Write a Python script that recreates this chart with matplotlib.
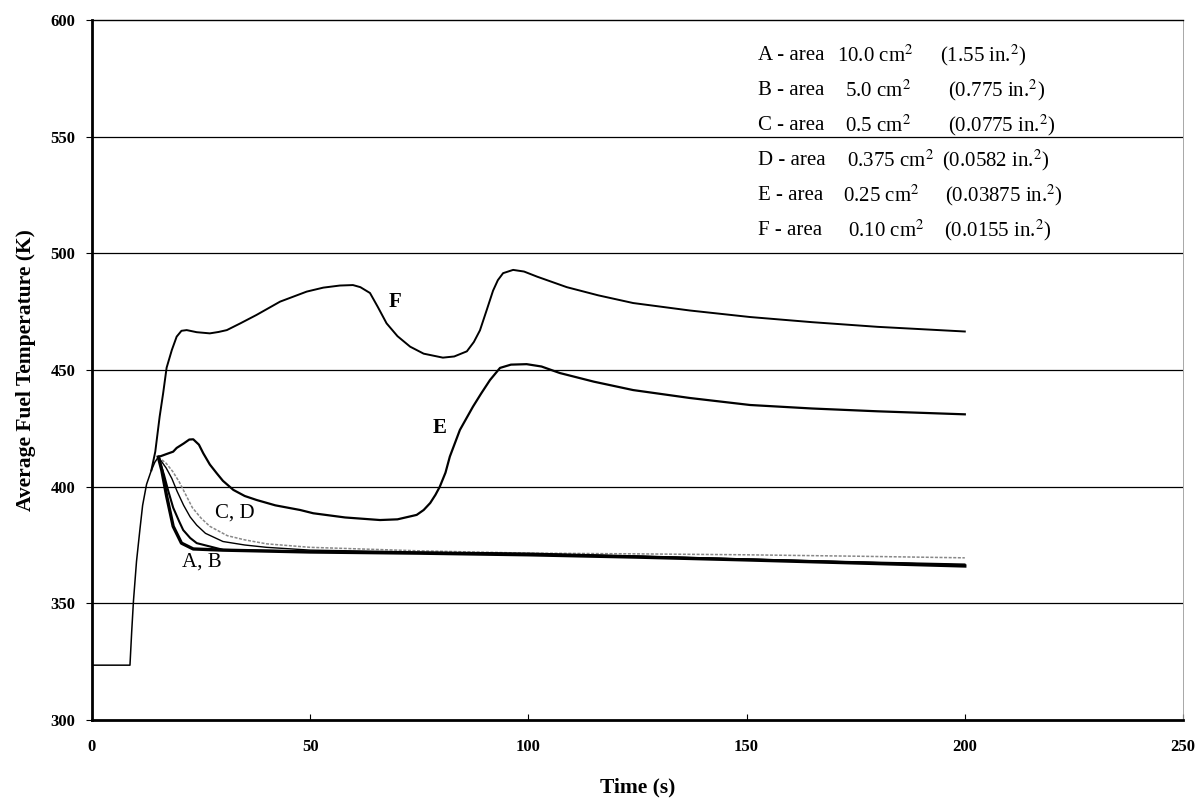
import matplotlib
matplotlib.use("Agg")
import matplotlib.pyplot as plt

plt.rcParams['font.family'] = ['Liberation Serif', 'DejaVu Serif']
plt.rcParams['mathtext.fontset'] = 'stix'

# shared warm-up ramp (all cases start together)
ramp_t = [0, 8.7, 9.1, 9.5, 10.2, 11.0, 11.6, 12.5, 13.6, 14.4, 15.2]
ramp_T = [323.5, 323.5, 338, 351, 368, 382, 392, 401, 407, 410.5, 412.7]

# A - 10.0 cm2
a_t = [15.2, 16.0, 17.1, 18.6, 20.5, 23.2, 30, 50, 75, 100, 125, 150, 175, 200]
a_T = [412.7, 407, 396, 383, 375.8, 373.3, 372.8, 372.0, 371.5, 370.8, 369.8, 368.6, 367.3, 366.0]
# B - 5.0 cm2
b_t = [15.2, 16.5, 17.5, 18.6, 20.0, 20.9, 22.5, 24.0, 30.1, 50, 75, 100, 125, 150, 175, 200]
b_T = [412.7, 405, 398, 391, 385, 381.4, 378, 375.8, 372.9, 372.2, 371.6, 371.0, 370.0, 368.8, 367.5, 366.3]
# C - 0.5 cm2
c_t = [15.2, 17.0, 18.3, 19.5, 21.0, 22.5, 24.0, 26.0, 30, 35, 40, 50, 75, 100, 125, 150, 175, 200]
c_T = [412.7, 408, 403.5, 398, 392, 387, 383.5, 380, 376.5, 375.0, 374.0, 372.8, 372.0, 371.5, 370.3, 369.0, 367.8, 366.8]
# D - 0.375 cm2
d_t = [15.2, 17.0, 18.5, 20.0, 21.5, 23.0, 25.0, 27.0, 31.0, 35, 40, 50, 75, 100, 125, 150, 175, 200]
d_T = [412.7, 410, 406.5, 402, 396.5, 391, 386.5, 383, 379, 377.2, 375.5, 374.0, 372.5, 371.5, 371.2, 370.8, 370.2, 369.5]
# E - 0.25 cm2
e_t = [15.2, 17.1, 18.6, 19.4, 21.0, 22.3, 23.2, 24.5, 25.5, 27.0, 28.6, 30.0, 32.4, 35.0, 37.7, 42.0, 47.7, 50.7, 58,
       66, 70, 74.4, 76.0, 77.5, 78.7, 79.7, 81.0, 82.0, 84.3, 87.3, 89.2, 91.2, 93.5, 96, 99.6, 103, 107.2, 115,
       124, 137, 150.8, 165, 180, 200]
e_T = [412.7, 414, 415, 416.6, 418.5, 420.2, 420.3, 418, 414.3, 409.5, 405.7, 402.5, 398.6, 396.0, 394.3, 392.0, 390.0, 388.6, 386.8,
       385.7, 386.0, 387.9, 390.0, 393.0, 396.5, 400.0, 406.0, 412.9, 424.3, 434.3, 440.0, 445.7, 450.9, 452.3, 452.5, 451.5, 448.7, 445.0,
       441.4, 438.0, 435.0, 433.5, 432.3, 431.0]
# F - 0.10 cm2
f_t = [13.6, 14.5, 15.5, 16.3, 17.1, 18.3, 19.4, 20.5, 21.7, 24, 27, 29, 30.9, 34, 37.7, 43.1, 49.2, 53, 56.8, 59.8,
       61.5, 63.7, 65.5, 67.5, 70, 72.9, 76, 80.4, 83, 85.9, 87.5, 88.9, 90.5, 91.9, 93, 94.2, 96.5, 99,
       102, 108.8, 116, 124, 137, 150.8, 165, 180, 200]
f_T = [407, 415, 430, 440, 451, 458.6, 464.3, 466.8, 467.1, 466.2, 465.7, 466.3, 467.1, 470, 473.6, 479.3, 483.6, 485.3, 486.2, 486.4,
       485.5, 483, 477, 470, 464.5, 460, 457, 455.3, 455.8, 458, 462, 467, 476, 484, 488.5, 491.5, 492.9, 492.2,
       490, 485.5, 482, 478.7, 475.5, 472.7, 470.5, 468.5, 466.5]

legend_rows = [
    ("A - area", r"10.0 cm$^2$", r"(1.55 in.$^2$)"),
    ("B - area", r"5.0 cm$^2$", r"(0.775 in.$^2$)"),
    ("C - area", r"0.5 cm$^2$", r"(0.0775 in.$^2$)"),
    ("D - area", r"0.375 cm$^2$", r"(0.0582 in.$^2$)"),
    ("E - area", r"0.25 cm$^2$", r"(0.03875 in.$^2$)"),
    ("F - area", r"0.10 cm$^2$", r"(0.0155 in.$^2$)"),
]

fig = plt.figure(figsize=(12.04, 8), dpi=100)
ax = fig.add_axes([92 / 1204, 0.1, (1183 - 92) / 1204, 0.875])

for y in [350, 400, 450, 500, 550]:
    ax.axhline(y, color='black', lw=0.9, zorder=1)

ax.plot(ramp_t, ramp_T, color='black', lw=1.1, zorder=3)
ax.plot(f_t, f_T, color='black', lw=1.4, zorder=3)
ax.plot(e_t, e_T, color='black', lw=1.6, zorder=3)
ax.plot(d_t, d_T, color='#888888', lw=1.1, ls=(0, (2, 1)), zorder=3)
ax.plot(c_t, c_T, color='black', lw=1.0, zorder=3)
ax.plot(b_t, b_T, color='black', lw=1.5, zorder=3)
ax.plot(a_t, a_T, color='black', lw=2.4, zorder=3)

lab = dict(fontsize=15, ha='center', va='center', zorder=4)
ax.text(69.4, 479.3, "F", fontweight='bold', **lab)
ax.text(79.6, 425.3, "E", fontweight='bold', **lab)
ax.text(32.8, 388.7, "C, D", **lab)
ax.text(25.1, 367.7, "A, B", **lab)

# key in the upper right
val_x = [170.7, 172.5, 172.5, 173.0, 172.1, 173.2]
par_x = [194.3, 196.2, 196.2, 194.8, 195.5, 195.2]
for i, (name, cm, inch) in enumerate(legend_rows):
    y = 584.7 - 15 * i
    ax.text(152.6, y, name, fontsize=15, va='center', zorder=4)
    ax.text(val_x[i], y, cm, fontsize=15, va='center', zorder=4)
    ax.text(par_x[i], y, inch, fontsize=15, va='center', zorder=4)

ax.set_xlim(0, 250)
ax.set_ylim(300, 600)
ax.set_xticks(range(0, 251, 50))
ax.set_yticks(range(300, 601, 50))
ax.tick_params(axis='x', direction='in', length=4, width=0.8, labelsize=12, pad=14)
ax.tick_params(axis='y', direction='out', length=4, width=0.8, labelsize=12, pad=8)
for lbl in ax.get_xticklabels() + ax.get_yticklabels():
    lbl.set_fontweight('bold')

ax.spines['left'].set_linewidth(2.0)
ax.spines['bottom'].set_linewidth(2.0)
ax.spines['top'].set_linewidth(1.0)
ax.spines['right'].set_linewidth(0.6)
ax.spines['right'].set_color('#999999')

ax.set_xlabel("Time (s)", fontsize=15.5, fontweight='bold', labelpad=16)
ax.set_ylabel("Average Fuel Temperature (K)", fontsize=15.5, fontweight='bold', labelpad=10)

fig.savefig("out.png", dpi=100)
